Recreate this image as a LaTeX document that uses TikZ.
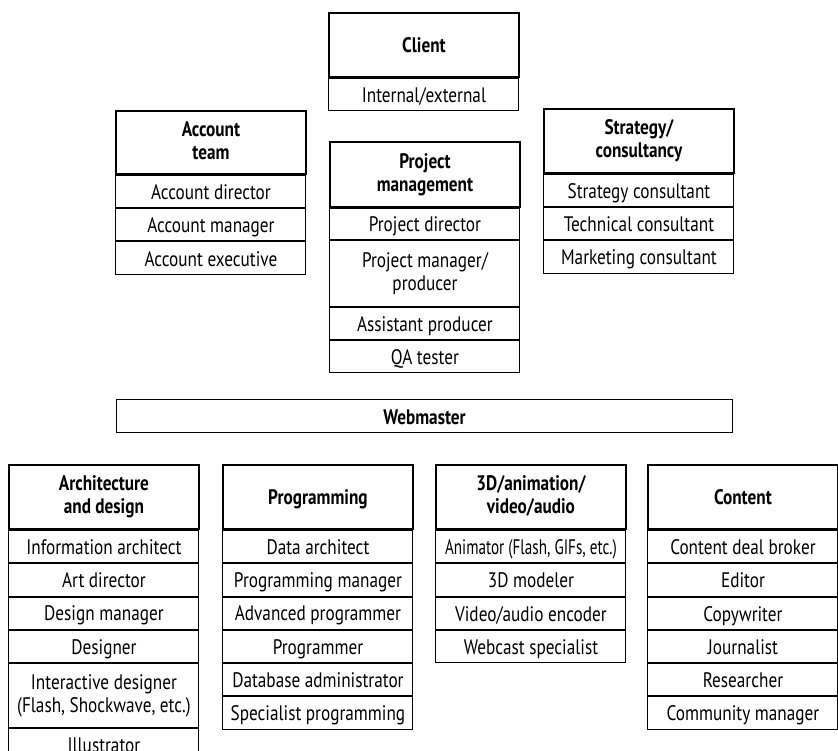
\documentclass[tikz,border=0pt]{standalone}
\usepackage{fontspec}
\usepackage{graphicx}
\setmainfont{PT Sans}[FakeStretch=0.82]
\begin{document}
\begin{tikzpicture}[x=1pt,y=-1pt,
  box/.style={draw, line width=1pt, minimum width=190pt, inner sep=0pt,
    align=center, font=\fontsize{21}{23}\selectfont,
    execute at begin node={\rule{0pt}{20pt}},
    execute at end node={\rule[-4pt]{0pt}{4pt}}},
  head/.style={box, line width=1.9pt, minimum height=64pt, anchor=north west,
    font=\fontsize{21}{23}\selectfont\bfseries},
  role/.style={box, minimum height=32.3pt, anchor=north},
  role2/.style={box, minimum height=64pt, anchor=north},
  bar/.style={box, line width=1.2pt, minimum width=616pt, minimum height=33pt,
    anchor=north west, font=\fontsize{21}{23}\selectfont\bfseries},
]
\useasboundingbox (0,0) rectangle (838,751);

% Client
\node[head] (cl) at (328,12) {Client};
\node[role, minimum height=32pt] (cl1) at (cl.south) {Internal/external};

% Account team
\node[head, minimum height=63pt] (ac) at (115,110) {Account\\team};
\node[role] (ac1) at (ac.south) {Account director};
\node[role] (ac2) at (ac1.south) {Account manager};
\node[role] (ac3) at (ac2.south) {Account executive};

% Project management
\node[head, minimum height=65pt] (pm) at (329,141) {Project\\management};
\node[role, minimum height=31pt] (pm1) at (pm.south) {Project director};
\node[role2, minimum height=66pt] (pm2) at (pm1.south) {Project manager/\\producer};
\node[role, minimum height=32pt] (pm3) at (pm2.south) {Assistant producer};
\node[role, minimum height=32pt] (pm4) at (pm3.south) {QA tester};

% Strategy / consultancy
\node[head] (st) at (543,108) {Strategy/\\consultancy};
\node[role] (st1) at (st.south) {Strategy consultant};
\node[role] (st2) at (st1.south) {Technical consultant};
\node[role] (st3) at (st2.south) {Marketing consultant};

% Webmaster bar
\node[bar] (wm) at (116,399) {Webmaster};

% Architecture and design
\node[head] (ar) at (8,464) {Architecture\\and design};
\node[role] (ar1) at (ar.south) {Information architect};
\node[role] (ar2) at (ar1.south) {Art director};
\node[role] (ar3) at (ar2.south) {Design manager};
\node[role] (ar4) at (ar3.south) {Designer};
\node[role2] (ar5) at (ar4.south) {Interactive designer\\(Flash, Shockwave, etc.)};
\node[role] (ar6) at (ar5.south) {Illustrator};

% Programming
\node[head] (pr) at (222,464) {Programming};
\node[role] (pr1) at (pr.south) {Data architect};
\node[role] (pr2) at (pr1.south) {Programming manager};
\node[role] (pr3) at (pr2.south) {Advanced programmer};
\node[role] (pr4) at (pr3.south) {Programmer};
\node[role] (pr5) at (pr4.south) {Database administrator};
\node[role] (pr6) at (pr5.south) {Specialist programming};

% 3D / animation / video / audio
\node[head] (an) at (435,464) {3D/animation/\\video/audio};
\node[role] (an1) at (an.south) {\scalebox{0.88}[1]{Animator (Flash, GIFs, etc.)}};
\node[role] (an2) at (an1.south) {3D modeler};
\node[role] (an3) at (an2.south) {Video/audio encoder};
\node[role] (an4) at (an3.south) {Webcast specialist};

% Content
\node[head] (co) at (647,464) {Content};
\node[role] (co1) at (co.south) {Content deal broker};
\node[role] (co2) at (co1.south) {Editor};
\node[role] (co3) at (co2.south) {Copywriter};
\node[role] (co4) at (co3.south) {Journalist};
\node[role] (co5) at (co4.south) {Researcher};
\node[role] (co6) at (co5.south) {Community manager};
\end{tikzpicture}
\end{document}
